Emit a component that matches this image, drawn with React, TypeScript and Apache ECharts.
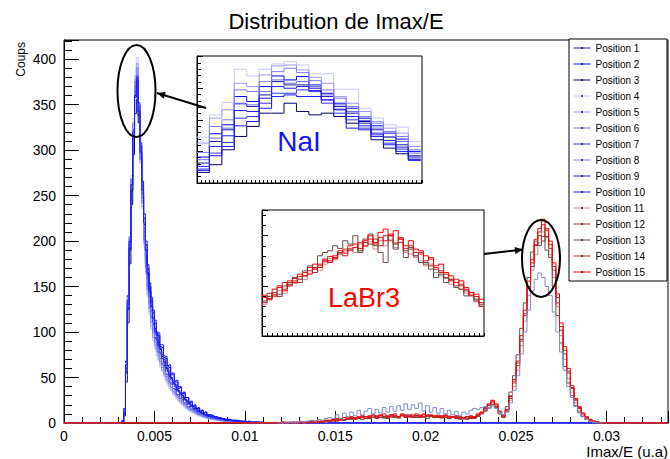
import React, { useEffect, useRef } from 'react';
import * as echarts from 'echarts';

const FONT = "'Liberation Sans', Arial, Helvetica, sans-serif";

const POSITIONS = [
  'Position 1', 'Position 2', 'Position 3', 'Position 4', 'Position 5',
  'Position 6', 'Position 7', 'Position 8', 'Position 9', 'Position 10',
  'Position 11', 'Position 12', 'Position 13', 'Position 14', 'Position 15',
];
const COLORS = [
  '#1a1aaa', '#0000ff', '#000070', '#c8c8ff', '#9a9aff',
  '#6c6cf0', '#3333ff', '#7c7cff', '#2020ee', '#1a1aff',
  '#d08888', '#a03030', '#6e4a4a', '#d42020', '#ff0000',
];
const FOND_COLOR = '#7d8dd0';

const X_MIN = 0;
const X_MAX = 0.0334;
const Y_MAX = 421;

// NaI histograms (Position 1..10): bins of 0.0001 starting at 0.0030
const NAI_START = 0.003;
const NAI_BIN = 0.0001;
const NAI_P1 = [0,0,1,10,55,125,190,255,318,360, 372,338,292,248,210,182,150,136,117,108, 94,90,78,76,65,63,54,53,45,44, 38,37,31,31,27,26,22,22,18,18, 15,15,12,13,10,10,9,8,8,7, 6,6,5,5,4,4,4,3,3,3, 3,2,2,2,2,2,1,2,1,1, 1,1,1,0,1,0,1,0,0,1];
const NAI_P2 = [0,0,3,16,68,140,205,268,322,358, 375,350,305,262,225,196,170,150,134,121, 110,99,96,84,83,72,71,63,61,53, 53,45,45,38,39,32,33,28,28,23, 23,19,19,16,16,13,14,11,12,9, 9,9,8,7,7,6,6,5,5,4, 4,4,3,3,3,3,2,2,2,2, 2,1,2,1,1,1,1,0,1,0];
const NAI_P3 = [0,0,1,8,45,110,175,240,295,340, 356,330,290,252,218,190,165,145,128,115, 104,96,86,81,73,68,61,58,52,49, 44,42,37,35,32,30,27,25,23,21, 19,18,16,15,13,12,11,10,9,8, 8,7,6,6,5,5,4,4,4,3, 3,3,3,2,2,2,2,2,1,1, 1,1,1,1,0,1,0,1,0,0];
const NAI_P4 = [0,0,2,14,66,138,205,272,335,382, 402,350,288,236,195,163,138,118,103,91, 82,74,68,61,56,51,46,42,38,35, 31,29,26,24,21,20,18,16,15,13, 12,11,10,9,8,7,7,6,5,5, 4,4,4,3,3,3,2,2,2,2, 2,1,2,1,1,1,1,1,0,1, 0,1,0,0,1,0,0,0,1,0];
const NAI_P5 = [0,0,2,13,62,134,200,266,330,375, 395,346,286,238,198,166,142,122,106,94, 85,78,70,64,58,53,48,44,40,37, 33,31,28,25,23,21,19,17,16,14, 13,12,11,10,9,8,7,6,6,5, 5,4,4,4,3,3,3,2,2,2, 2,2,1,2,1,1,1,1,1,0, 1,0,1,0,0,1,0,0,0,0];
const NAI_P6 = [0,0,1,11,58,128,194,258,318,362, 378,340,290,244,206,176,151,131,116,103, 93,85,78,71,65,59,54,50,45,42, 38,35,32,29,27,24,22,20,18,17, 15,14,13,11,10,9,9,8,7,6, 6,5,5,4,4,4,3,3,3,2, 2,2,2,2,1,2,1,1,1,1, 1,0,1,0,1,0,0,1,0,0];
const NAI_P7 = [0,0,2,12,60,130,196,262,322,364, 382,344,296,252,214,184,159,139,123,110, 100,92,84,78,71,66,60,56,51,47, 43,40,36,34,31,28,26,24,21,20, 18,16,15,13,12,11,10,9,8,8, 7,6,6,5,5,4,4,4,3,3, 3,2,2,2,2,2,1,1,1,1, 1,1,0,1,0,1,0,0,1,0];
const NAI_P8 = [0,0,2,13,63,136,202,268,328,370, 390,348,292,242,202,171,146,126,111,99, 89,81,74,67,61,56,51,47,43,39, 35,33,30,27,25,23,21,19,17,15, 14,13,12,10,9,9,8,7,6,6, 5,5,4,4,4,3,3,3,2,2, 2,2,2,1,1,1,1,1,1,1, 0,1,0,1,0,0,1,0,0,0];
const NAI_P9 = [0,0,1,11,56,126,192,256,316,358, 376,342,298,256,220,190,164,144,128,115, 104,97,88,82,75,70,63,60,54,50, 46,43,39,36,33,31,28,26,24,22, 20,18,17,15,14,12,11,10,9,9, 8,7,7,6,5,5,5,4,4,3, 3,3,3,2,2,2,2,2,1,1, 1,1,1,1,0,1,0,1,0,0];
const NAI_P10 = [0,0,2,14,64,135,200,262,320,360, 380,352,308,266,230,200,174,154,138,124, 113,100,99,86,86,74,73,63,64,54, 55,46,47,40,40,33,34,28,28,23, 24,19,20,16,17,13,14,11,12,9, 9,8,8,7,6,6,5,5,5,4, 4,4,3,3,3,2,3,2,2,2, 2,1,2,1,1,1,1,1,0,1];
const NAI_COUNTS = [NAI_P1, NAI_P2, NAI_P3, NAI_P4, NAI_P5, NAI_P6, NAI_P7, NAI_P8, NAI_P9, NAI_P10];

// LaBr3 histograms (Position 11..15): bins of 0.0002 starting at 0.0118
const LABR_START = 0.0118;
const LABR_BIN = 0.0002;
const LABR_P11 = [0,0,0,1,0,0,1,0,2,1, 1,2,3,1,2,4,3,5,3,6, 4,5,7,4,6,5,7,6,8,5, 7,6,9,5,8,7,6,8,7,9, 6,8,7,6,9,5,7,8,6,5, 7,4,6,5,7, 9,12,15,17,21,19,12,8,12,25, 40,58,85,112,140,168,185,198,210,204, 185,160,128,96,70,49,34,22,14,8, 5,3,1,1,0];
const LABR_P12 = [0,1,0,0,0,1,0,1,1,2, 0,2,1,3,2,3,4,3,6,4, 5,4,6,7,5,8,6,5,8,7, 6,9,7,6,8,9,7,6,8,6, 9,7,8,6,7,8,6,5,7,6, 4,6,7,5,6, 8,11,13,19,23,17,10,6,15,30, 46,66,92,120,150,172,195,206,200,214, 192,168,132,102,76,55,38,25,16,10, 6,3,2,1,0];
const LABR_P13 = [0,0,1,0,1,0,0,1,0,1, 2,1,1,2,3,2,3,4,3,5, 4,6,5,4,7,5,6,8,6,7, 5,8,6,7,9,6,8,7,6,8, 7,5,8,6,7,6,8,5,6,7, 5,6,4,7,5, 7,10,14,16,20,18,13,9,18,34, 52,75,104,132,160,188,200,195,205,190, 182,150,118,88,62,44,30,19,12,7, 4,2,1,0,0];
const LABR_P14 = [0,0,0,0,1,0,1,1,0,2, 1,1,2,2,3,4,2,5,4,5, 6,4,7,6,5,7,8,6,9,6, 8,7,10,6,8,7,9,6,10,8, 7,9,7,8,6,7,9,6,7,5, 7,6,5,8,6, 9,11,16,20,24,20,13,7,13,27, 44,63,90,118,148,176,196,210,218,205, 196,172,138,106,80,57,39,26,17,10, 6,4,2,1,0];
const LABR_P15 = [0,1,0,0,0,0,1,0,1,1, 2,1,2,3,2,3,5,4,6,5, 7,5,6,8,7,6,9,7,8,10, 7,9,8,7,10,8,7,9,8,7, 10,8,9,7,8,6,8,7,6,8, 6,5,7,6,7, 10,12,17,21,25,21,12,8,14,29, 48,68,96,124,156,180,202,214,224,212, 200,176,142,110,84,60,41,27,18,11, 7,4,2,1,0];
const LABR_COUNTS = [LABR_P11, LABR_P12, LABR_P13, LABR_P14, LABR_P15];
const FOND_COUNTS = [0,0,0,1,0,1,2,1,2,3, 2,4,3,5,6,5, 9,5,11,7,12,8,14,9,13,16, 10,15,11,17,12,18,13,19,14,21, 15,20,16,22,13,19,12,17,11,16, 10,14,9,13,8,12,10,14,16, 15,17,18,16,19,16,12,9,12,22, 36,52,76,100,124,145,158,165,160,150, 140,122,100,78,58,40,28,18,11,7, 4,2,1,0,0];

// Inset "NaI" (zoom of the NaI peak), Position 1..10, 18 bins
const NAI_INSET = [
  [60,125,160,238,230,265,305,295,295,285,260,230,210,180,160,138,115,82],
  [78,148,175,260,245,290,322,310,320,295,270,240,225,195,172,150,132,95],
  [32,55,100,140,170,210,210,240,215,205,210,200,180,185,130,105,88,70],
  [138,205,242,342,322,342,358,365,355,328,330,282,282,225,195,175,168,125],
  [120,195,220,300,290,325,352,355,340,318,300,260,240,215,185,165,150,110],
  [70,135,165,240,235,275,310,300,305,290,265,235,215,188,165,140,125,90],
  [42,90,122,195,200,240,270,270,280,275,240,210,190,165,145,120,102,72],
  [92,170,190,280,275,305,335,345,332,308,280,255,230,200,180,155,140,100],
  [50,110,142,218,215,255,290,285,290,278,250,222,200,172,150,128,108,78],
  [38,82,110,172,185,225,260,265,260,260,250,220,165,160,140,115,95,68],
];
const NAI_INSET_MAX = 382;

// Inset "LaBr3" (zoom of the LaBr3 peak), Position 11..15, 44 bins
const LABR_INSET_START = 245;
const LABR_INSET = [
  [95,108,118,135,128,150,158,170,168,188,200,195,215,232,228,248,255,262,250,275,268,282,260,285,270,290,265,280,250,245,235,225,210,215,190,180,172,155,160,140,128,125,102,92],
  [100,112,125,118,140,155,165,160,180,195,190,210,225,220,235,245,240,260,265,255,280,275,290,270,300,285,275,290,255,260,240,250,220,210,200,190,175,168,150,155,135,120,105,88],
  [105,118,130,125,150,160,175,170,195,210,205,240,250,255,270,262,285,275,300,250,290,305,270,250,220,300,260,280,235,265,240,220,215,200,175,185,160,170,145,140,120,130,110,95],
  [115,128,120,145,160,150,172,178,190,185,215,205,222,238,232,250,260,255,265,280,270,290,275,295,285,305,278,295,262,270,250,245,225,235,205,195,185,165,170,150,145,122,118,100],
  [122,110,140,150,135,165,160,185,180,205,200,215,230,225,240,255,248,270,275,262,285,300,280,310,320,300,315,290,270,285,260,255,240,230,210,215,190,180,160,165,140,130,125,110],
];
const LABR_INSET_MAX = 377;

function histMain(start: number, width: number, counts: number[]) {
  const pts: number[][] = [[X_MIN, 0]];
  counts.forEach((c, i) => pts.push([start + i * width, c]));
  pts.push([start + counts.length * width, 0]);
  pts.push([X_MAX, 0]);
  return pts;
}
function histRange(start: number, width: number, counts: number[]) {
  const pts: number[][] = counts.map((c, i) => [start + i * width, c]);
  pts.push([start + counts.length * width, 0]);
  return pts;
}
function histInset(start: number, counts: number[]) {
  const pts: number[][] = counts.map((c, i) => [start + i, c]);
  pts.push([start + counts.length, counts[counts.length - 1]]);
  return pts;
}

function arrowHead(x1: number, y1: number, x2: number, y2: number, len: number, half: number) {
  const dx = x2 - x1, dy = y2 - y1;
  const d = Math.sqrt(dx * dx + dy * dy);
  const ux = dx / d, uy = dy / d;
  const bx = x2 - ux * len, by = y2 - uy * len;
  return [[x2, y2], [bx - uy * half, by + ux * half], [bx + uy * half, by - ux * half]];
}

export default function App() {
  const ref = useRef<HTMLDivElement>(null);
  useEffect(() => {
    if (!ref.current) return;
    const chart = echarts.init(ref.current, undefined, { renderer: 'svg' });

    const lineBase = (name: string, color: string, xi: number, data: number[][], width = 1) => ({
      name, type: 'line', xAxisIndex: xi, yAxisIndex: xi, step: 'end', symbol: 'none',
      showSymbol: false, silent: true, clip: true, data,
      lineStyle: { color, width }, itemStyle: { color }, emphasis: { disabled: true },
    });

    const series: any[] = [];
    NAI_COUNTS.forEach((c, i) => series.push(lineBase(POSITIONS[i], COLORS[i], 0, histMain(NAI_START, NAI_BIN, c))));
    LABR_COUNTS.forEach((c, i) => series.push(lineBase(POSITIONS[10 + i], COLORS[10 + i], 0, histMain(LABR_START, LABR_BIN, c))));
    series.push(lineBase('Fond', FOND_COLOR, 0, histRange(LABR_START, LABR_BIN, FOND_COUNTS)));
    NAI_INSET.forEach((c, i) => series.push(lineBase(POSITIONS[i], COLORS[i], 1, histInset(0, c))));
    LABR_INSET.forEach((c, i) => series.push(lineBase(POSITIONS[10 + i], COLORS[10 + i], 2, histInset(LABR_INSET_START, c))));

    const blackLine = { show: true, lineStyle: { color: '#000', width: 1 } };
    const insetX = (gi: number, min: number, max: number, interval: number, split: number) => ({
      type: 'value', gridIndex: gi, min, max, interval,
      axisLine: blackLine,
      axisTick: { show: true, inside: true, length: 3, lineStyle: { color: '#000' } },
      minorTick: { show: true, splitNumber: split, length: 3, lineStyle: { color: '#000' } },
      axisLabel: { show: false }, splitLine: { show: false }, minorSplitLine: { show: false },
    });
    const insetY = (gi: number, max: number, interval: number) => ({
      type: 'value', gridIndex: gi, min: 0, max, interval,
      axisLine: blackLine,
      axisTick: { show: true, inside: true, length: 6, lineStyle: { color: '#000' } },
      minorTick: { show: true, splitNumber: 5, length: 4, lineStyle: { color: '#000' } },
      axisLabel: { show: false }, splitLine: { show: false }, minorSplitLine: { show: false },
    });

    const a1 = { x1: 206, y1: 108, x2: 157, y2: 93 };
    const a2 = { x1: 484, y1: 254, x2: 523, y2: 249.5 };

    chart.setOption({
      animation: false,
      backgroundColor: '#fff',
      textStyle: { fontFamily: FONT },
      grid: [
        { left: 64, top: 40, right: 2, bottom: 36, show: true, borderColor: '#000', borderWidth: 1, backgroundColor: 'transparent', containLabel: false, outerBoundsMode: 'none' },
        { left: 197, top: 56, width: 225, height: 127, show: true, borderColor: '#000', borderWidth: 1, backgroundColor: '#fff', containLabel: false, outerBoundsMode: 'none' },
        { left: 262, top: 210, width: 222, height: 126, show: true, borderColor: '#000', borderWidth: 1, backgroundColor: '#fff', containLabel: false, outerBoundsMode: 'none' },
      ],
      xAxis: [
        {
          type: 'value', gridIndex: 0, min: X_MIN, max: X_MAX, interval: 0.005,
          axisLine: blackLine,
          axisTick: { show: true, inside: true, length: 12, lineStyle: { color: '#000' } },
          minorTick: { show: true, splitNumber: 5, length: 6, lineStyle: { color: '#000' } },
          axisLabel: {
            color: '#000', fontSize: 14, fontFamily: FONT, margin: 6, showMaxLabel: false,
            formatter: (v: number) => String(parseFloat(v.toFixed(4))),
          },
          splitLine: { show: false }, minorSplitLine: { show: false },
        },
        insetX(1, 0, 18.1, 1, 3),
        insetX(2, LABR_INSET_START, LABR_INSET_START + 44, 10, 10),
      ],
      yAxis: [
        {
          type: 'value', gridIndex: 0, min: 0, max: Y_MAX, interval: 50,
          axisLine: blackLine,
          axisTick: { show: true, inside: true, length: 15, lineStyle: { color: '#000' } },
          minorTick: { show: true, splitNumber: 5, length: 8, lineStyle: { color: '#000' } },
          axisLabel: { color: '#000', fontSize: 14, fontFamily: FONT, margin: 8, showMaxLabel: false },
          splitLine: { show: false }, minorSplitLine: { show: false },
        },
        insetY(1, NAI_INSET_MAX, 95),
        insetY(2, LABR_INSET_MAX, 150),
      ],
      legend: {
        data: POSITIONS,
        orient: 'vertical',
        left: 569, top: 39,
        itemWidth: 17, itemHeight: 2, itemGap: 4,
        padding: [3, 22, 3, 4],
        backgroundColor: '#fff', borderColor: '#000', borderWidth: 1, borderRadius: 0,
        selectedMode: false,
        itemStyle: { color: '#000', borderWidth: 0 },
        lineStyle: { width: 1 },
        textStyle: { fontSize: 10, color: '#000', fontFamily: FONT, lineHeight: 12 },
      },
      graphic: [
        { type: 'text', x: 336, y: 21, z: 10, style: { text: 'Distribution de Imax/E', fontSize: 22, fontFamily: FONT, fill: '#000', align: 'center', verticalAlign: 'middle' } },
        { type: 'text', x: 21, y: 42, rotation: Math.PI / 2, z: 10, style: { text: 'Coups', fontSize: 12, fontFamily: FONT, fill: '#000', align: 'right', verticalAlign: 'middle' } },
        { type: 'text', x: 668, y: 451, z: 10, style: { text: 'Imax/E (u.a)', fontSize: 15, fontFamily: FONT, fill: '#000', align: 'right', verticalAlign: 'middle' } },
        { type: 'text', x: 299, y: 141, z: 10, style: { text: 'NaI', fontSize: 28, fontFamily: FONT, fill: '#1414ff', align: 'center', verticalAlign: 'middle' } },
        { type: 'text', x: 364, y: 298, z: 10, style: { text: 'LaBr3', fontSize: 27, fontFamily: FONT, fill: '#ff0000', align: 'center', verticalAlign: 'middle' } },
        { type: 'ellipse', z: 10, shape: { cx: 136.5, cy: 91, rx: 19, ry: 46 }, style: { fill: 'none', stroke: '#000', lineWidth: 2 } },
        { type: 'ellipse', z: 10, shape: { cx: 541, cy: 258.5, rx: 19, ry: 38.5 }, style: { fill: 'none', stroke: '#000', lineWidth: 2 } },
        { type: 'line', z: 10, shape: a1, style: { stroke: '#000', lineWidth: 2 } },
        { type: 'polygon', z: 10, shape: { points: arrowHead(a1.x1, a1.y1, a1.x2, a1.y2, 8, 3.5) }, style: { fill: '#000' } },
        { type: 'line', z: 10, shape: a2, style: { stroke: '#000', lineWidth: 2 } },
        { type: 'polygon', z: 10, shape: { points: arrowHead(a2.x1, a2.y1, a2.x2, a2.y2, 8, 3.5) }, style: { fill: '#000' } },
      ],
      series,
    });
    return () => chart.dispose();
  }, []);
  return <div ref={ref} style={{ position: 'fixed', left: 0, top: 0, width: 670, height: 459 }} />;
}
